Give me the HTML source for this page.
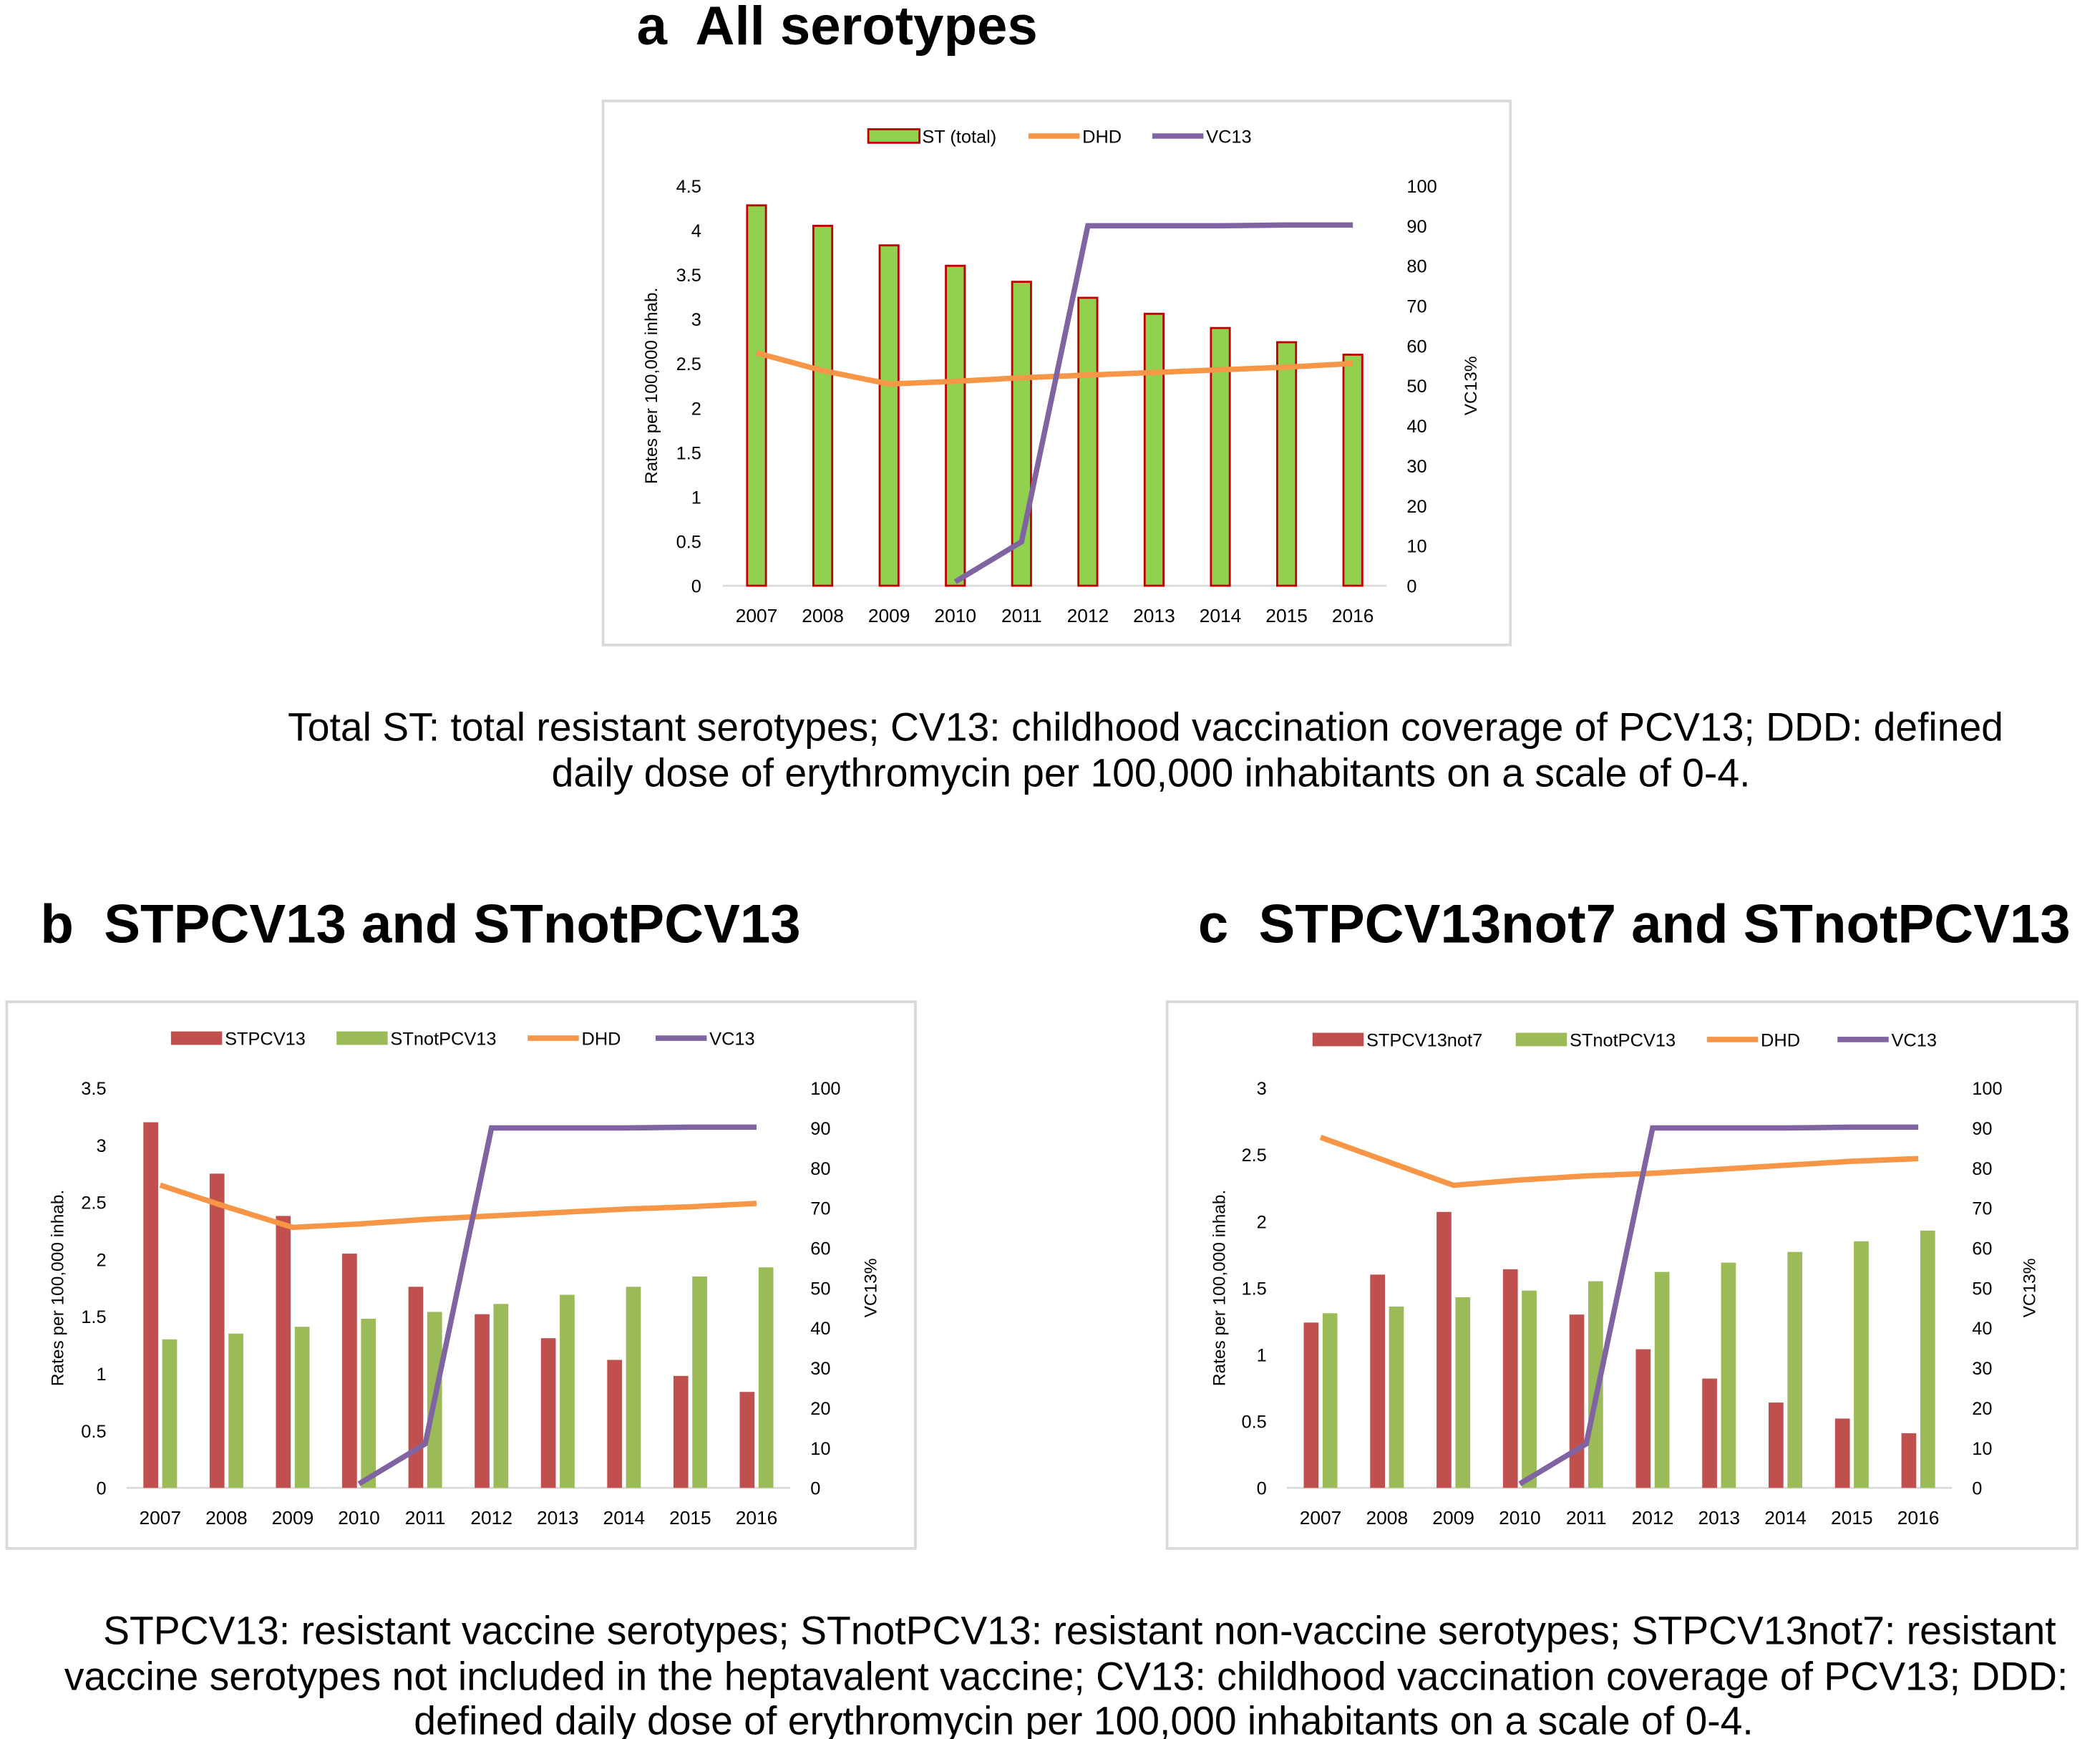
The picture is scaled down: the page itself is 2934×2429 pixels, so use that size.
<!DOCTYPE html>
<html><head><meta charset="utf-8"><style>
html,body{margin:0;padding:0;background:#fff;}
svg{display:block;font-family:"Liberation Sans",Arial,sans-serif;}
</style></head><body>
<svg id="root" width="2934" height="2429" viewBox="0 0 1560 1291.5" xmlns="http://www.w3.org/2000/svg">
<text x="473" y="33" font-size="40.5" font-weight="bold">a&#160; All serotypes</text>
<text font-size="29.4" text-anchor="middle"><tspan x="851" y="550">Total ST: total resistant serotypes; CV13: childhood vaccination coverage of PCV13; DDD: defined</tspan><tspan x="855" y="584">daily dose of erythromycin per 100,000 inhabitants on a scale of 0-4.</tspan></text>
<text x="30" y="700" font-size="40.5" font-weight="bold">b&#160; STPCV13 and STnotPCV13</text>
<text x="890" y="700" font-size="40.5" font-weight="bold">c&#160; STPCV13not7 and STnotPCV13</text>
<text font-size="29.4" text-anchor="middle"><tspan x="802" y="1221">STPCV13: resistant vaccine serotypes; STnotPCV13: resistant non-vaccine serotypes; STPCV13not7: resistant</tspan><tspan x="792" y="1255">vaccine serotypes not included in the heptavalent vaccine; CV13: childhood vaccination coverage of PCV13; DDD:</tspan><tspan x="805" y="1288">defined daily dose of erythromycin per 100,000 inhabitants on a scale of 0-4.</tspan></text>
<g id="ga"></g><g id="gb"></g><g id="gc"></g>
</svg>
<script>
const years=['2007','2008','2009','2010','2011','2012','2013','2014','2015','2016'];
const aTotal=[4.28,4.05,3.83,3.6,3.42,3.24,3.06,2.9,2.74,2.6];
const aDHD=[2.62,2.42,2.27,2.3,2.34,2.37,2.4,2.43,2.46,2.5];
const vc13=[null,null,null,1,11,90,90,90,90.2,90.2];
const bPCV=[3.2,2.75,2.38,2.05,1.76,1.52,1.31,1.12,0.98,0.84];
const bNot=[1.3,1.35,1.41,1.48,1.54,1.61,1.69,1.76,1.85,1.93];
const bDHD=[2.65,2.46,2.28,2.31,2.35,2.38,2.41,2.44,2.46,2.49];
const cPCV=[1.24,1.6,2.07,1.64,1.3,1.04,0.82,0.64,0.52,0.41];
const cNot=[1.31,1.36,1.43,1.48,1.55,1.62,1.69,1.77,1.85,1.93];
const cDHD=[2.63,2.45,2.27,2.31,2.34,2.36,2.39,2.42,2.45,2.47];
const leftTicksA=['0','0.5','1','1.5','2','2.5','3','3.5','4','4.5'];
const leftTicksB=['0','0.5','1','1.5','2','2.5','3','3.5'];
const leftTicksC=['0','0.5','1','1.5','2','2.5','3'];
const rightTicks=['0','10','20','30','40','50','60','70','80','90','100'];
const NS='http://www.w3.org/2000/svg';
function mk(p,t,a,txt){const e=document.createElementNS(NS,t);for(const k in a)e.setAttribute(k,a[k]);if(txt!==undefined)e.textContent=txt;p.appendChild(e);return e;}
function chart(g,o){
  const f=mk(g,'rect',{x:o.fx,y:o.fy,width:o.fw,height:o.fh,fill:'#fff',stroke:'#d9d9d9','stroke-width':2});
  
  const lmax=parseFloat(o.lt[o.lt.length-1]);
  const yL=v=>o.y0-(v/lmax)*(o.y0-o.y1);
  const yR=v=>o.y0-(v/100)*(o.y0-o.y1);
  const xs=i=>o.x0+i*(o.x9-o.x0)/9;
  o.lt.forEach(t=>{const e=mk(g,'text',{x:o.lax,y:yL(parseFloat(t))+5,'font-size':13.5,'text-anchor':'end'},t);});
  rightTicks.forEach(t=>{const e=mk(g,'text',{x:o.rax,y:yR(parseFloat(t))+5,'font-size':13.5},t);});
  const ax=mk(g,'line',{x1:xs(0)-25,x2:xs(9)+25,y1:o.y0,y2:o.y0,stroke:'#d9d9d9','stroke-width':1.5});
  
  years.forEach((y,i)=>{const e=mk(g,'text',{x:xs(i),y:o.y0+27,'font-size':14,'text-anchor':'middle'},y);});
  o.series.forEach(s=>{s.v.forEach((v,i)=>{const e=mk(g,'rect',{x:xs(i)+s.off-s.w/2,y:yL(v),width:s.w,height:o.y0-yL(v),fill:s.fill,stroke:s.stroke||'none','stroke-width':1.5});});});
  const dp=o.dhd.map((v,i)=>xs(i)+','+yL(v)).join(' ');
  const dl=mk(g,'polyline',{points:dp,fill:'none',stroke:'#f79646','stroke-width':4});
  
  const vp=vc13.map((v,i)=>v===null?null:xs(i)+','+yR(v)).filter(p=>p).join(' ');
  const vl=mk(g,'polyline',{points:vp,fill:'none',stroke:'#8064a2','stroke-width':4});
  
  const lt=mk(g,'text',{x:0,y:0,'font-size':13,'text-anchor':'middle',transform:`translate(${o.ltx},${(o.y0+o.y1)/2}) rotate(-90)`},'Rates per 100,000 inhab.');
  
  const rt=mk(g,'text',{x:0,y:0,'font-size':13,'text-anchor':'middle',transform:`translate(${o.rtx},${(o.y0+o.y1)/2}) rotate(-90)`},'VC13%');
  
  o.legend.forEach(l=>{
    let sw;
    if(l.type==='bar')sw=mk(g,'rect',{x:l.x,y:o.ly-5,width:38,height:10,fill:l.fill,stroke:l.stroke||'none','stroke-width':1.5});
    else sw=mk(g,'line',{x1:l.x,x2:l.x+38,y1:o.ly,y2:o.ly,stroke:l.fill,'stroke-width':4});
    
    const t=mk(g,'text',{x:l.x+40,y:o.ly+5,'font-size':13.5},l.label);
    
  });
}
const G='#92d050',R='#c0504d',G2='#9bbb59';
chart(document.getElementById('ga'),{fx:448,fy:75,fw:674,fh:404,x0:562,x9:1005,y0:435,y1:138,lt:leftTicksA,lax:521,rax:1045,ltx:488,rtx:1097,ly:101,
 series:[{name:'st-total',v:aTotal,off:0,w:14,fill:G,stroke:'#c00000'}],dhd:aDHD,
 legend:[{type:'bar',x:645,fill:G,stroke:'#c00000',label:'ST (total)'},{type:'line',x:764,fill:'#f79646',label:'DHD'},{type:'line',x:856,fill:'#8064a2',label:'VC13'}]});
chart(document.getElementById('gb'),{fx:5,fy:744,fw:675,fh:406,x0:119,x9:562,y0:1105,y1:808,lt:leftTicksB,lax:79,rax:602,ltx:47,rtx:651,ly:771,
 series:[{name:'stpcv13',v:bPCV,off:-7,w:11,fill:R},{name:'stnotpcv13',v:bNot,off:7,w:11,fill:G2}],dhd:bDHD,
 legend:[{type:'bar',x:127,fill:R,label:'STPCV13'},{type:'bar',x:250,fill:G2,label:'STnotPCV13'},{type:'line',x:392,fill:'#f79646',label:'DHD'},{type:'line',x:487,fill:'#8064a2',label:'VC13'}]});
chart(document.getElementById('gc'),{fx:867,fy:744,fw:676,fh:406,x0:981,x9:1425,y0:1105,y1:808,lt:leftTicksC,lax:941,rax:1465,ltx:910,rtx:1512,ly:772,
 series:[{name:'stpcv13not7',v:cPCV,off:-7,w:11,fill:R},{name:'stnotpcv13',v:cNot,off:7,w:11,fill:G2}],dhd:cDHD,
 legend:[{type:'bar',x:975,fill:R,label:'STPCV13not7'},{type:'bar',x:1126,fill:G2,label:'STnotPCV13'},{type:'line',x:1268,fill:'#f79646',label:'DHD'},{type:'line',x:1365,fill:'#8064a2',label:'VC13'}]});
</script>
</body></html>
